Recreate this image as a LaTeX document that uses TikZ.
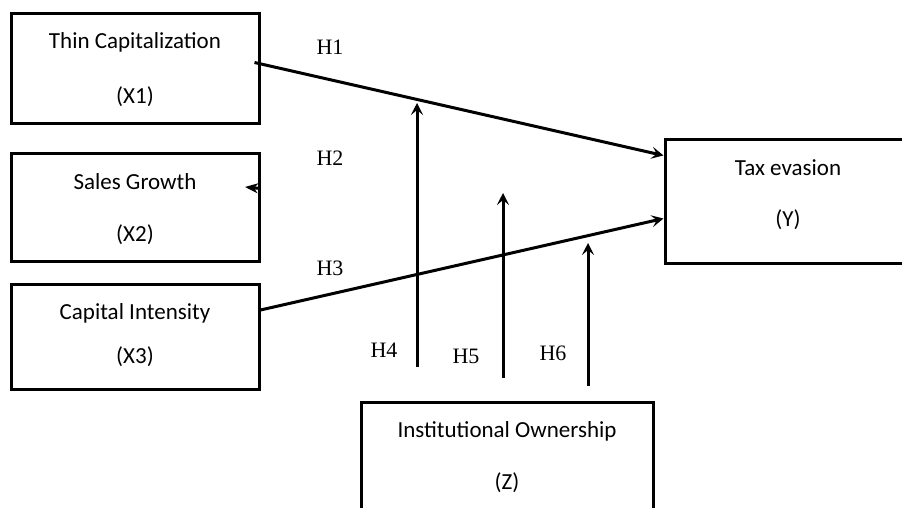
\documentclass[tikz,border=0pt]{standalone}
\usepackage{fontspec}
\setmainfont{Liberation Serif}
\newfontfamily\boxfont{Carlito}
\usepackage{tikz}
\usetikzlibrary{arrows.meta}
\usetikzlibrary{calc}
\tikzset{
  box/.style={draw=black, line width=3pt, inner sep=0pt},
  boxtext/.style={font=\boxfont\fontsize{23}{27}\selectfont, inner sep=0pt},
  hyp/.style={font=\fontsize{22}{26}\selectfont, inner sep=0pt},
  link/.style={line width=3pt, -{Stealth[length=12pt,width=12pt,inset=5pt]}}
}
% name, x, top y, width, height, title, code, code offset
\newcommand\varbox[8]{
  \node[box, anchor=north, minimum width=#4pt, minimum height=#5pt] (#1) at (#2,#3) {};
  \node[boxtext] (#1-title) at (#2,#3+30) {#6};
  \node[boxtext] (#1-code) at (#2,#3+#8) {#7};
}

\begin{document}
\begin{tikzpicture}[x=1pt,y=-1pt]
\clip (0,0) rectangle (902,508);

\varbox{thin}{135}{12}{248}{110}{Thin Capitalization}{(X1)}{85};
\varbox{sales}{135}{152}{248}{108}{Sales Growth}{(X2)}{83};
\varbox{capint}{135}{283}{248}{105}{Capital Intensity}{(X3)}{74};
\varbox{tax}{788}{138}{246}{124}{Tax evasion}{(Y)}{82};
\varbox{inst}{507}{401}{292}{130}{Institutional Ownership}{(Z)}{82};

\coordinate (sgtip) at (245,187);
\coordinate (h4top) at (417,103);
\coordinate (h5top) at (503,193);
\coordinate (h6top) at (588,243);

\draw[link] ([xshift=-6pt,yshift=6pt]thin.east) -- ([yshift=46pt]tax.west);
\draw[link] ([yshift=27pt]capint.east) -- ([yshift=-17pt]tax.west);
\draw[link,-{Stealth[length=13pt,width=10pt,inset=4pt]}] ([yshift=19pt]sales.east) -- (sgtip);

\draw[link] ([xshift=-90pt,yshift=34pt]inst.north) -- (h4top);
\draw[link] ([xshift=-4pt,yshift=23pt]inst.north) -- (h5top);
\draw[link] ([xshift=81pt,yshift=15pt]inst.north) -- (h6top);

\node[hyp] (h1) at (330,47) {H1};
\node[hyp] (h2) at (330,158) {H2};
\node[hyp] (h3) at (330,268) {H3};
\node[hyp] (h4) at (384,350) {H4};
\node[hyp] (h5) at (466,356) {H5};
\node[hyp] (h6) at (553,353) {H6};

\end{tikzpicture}
\end{document}
